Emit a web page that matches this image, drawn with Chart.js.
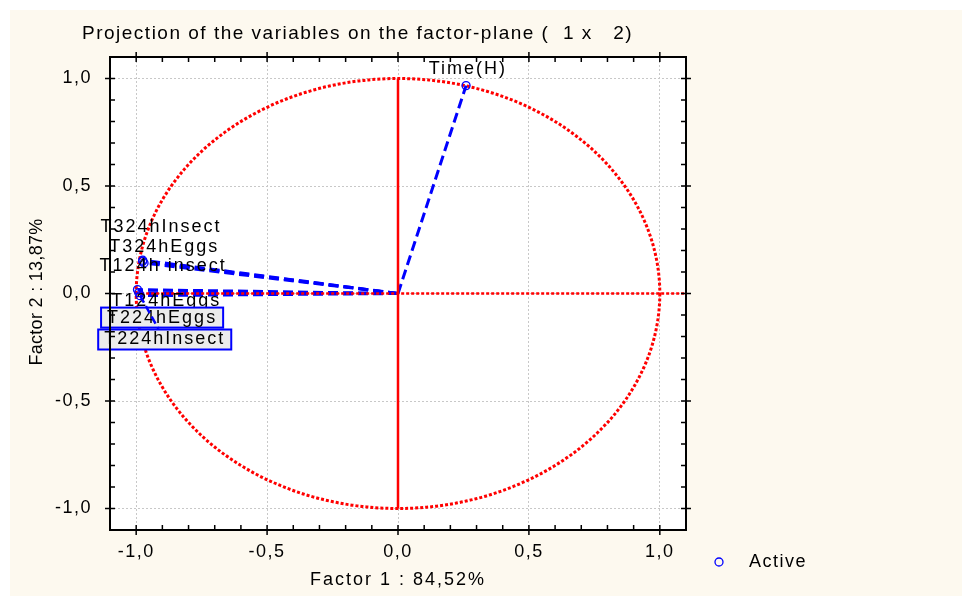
<!DOCTYPE html>
<html>
<head>
<meta charset="utf-8">
<script src="https://cdn.jsdelivr.net/npm/chart.js@4/dist/chart.umd.min.js"></script>
<style>
  html, body { margin: 0; padding: 0; background: #fff; }
</style>
</head>
<body>
<canvas id="c" width="962" height="596"></canvas>
<script>
// variables and their loadings on factor 1 / factor 2
const varNames = ['Time(H)', 'T124hEggs', 'T124h insect', 'T224hEggs', 'T224hInsect', 'T324hEggs', 'T324hInsect'];
const factor1 = [0.26, -0.995, -0.975, -0.99, -0.985, -0.97, -0.975];
const factor2 = [0.967, 0.018, 0.150, 0.004, -0.010, 0.142, 0.155];

const tickValues = [-1, -0.5, 0, 0.5, 1];
const axisMin = -1.1, axisMax = 1.1;

const chartTitle = 'Projection of the variables on the factor-plane (  1 x   2)';
const xTitle = 'Factor 1 : 84,52%';
const yTitle = 'Factor 2 : 13,87%';
const legendLabel = 'Active';

// label anchors (data units) and whether statistica drew a box around it
const labelSpots = [
  { x: 0.267, y: 1.042, boxed: false },
  { x: -0.885, y: -0.037, boxed: false },
  { x: -0.897, y: 0.126, boxed: false },
  { x: -0.901, y: -0.112, boxed: true },
  { x: -0.891, y: -0.214, boxed: true },
  { x: -0.893, y: 0.214, boxed: false },
  { x: -0.905, y: 0.307, boxed: false }
];

const FONT = 'Arial, "Liberation Sans", sans-serif';
const CREAM = '#fdf9ef';
const RED = '#ff0000';
const BLUE = '#0000ff';

const datasets = [];
// markers on top
datasets.push({
  type: 'scatter',
  data: varNames.map((n, i) => ({ x: factor1[i], y: factor2[i] })),
  pointRadius: 4,
  pointBorderColor: BLUE,
  pointBackgroundColor: 'rgba(0,0,0,0)',
  pointBorderWidth: 1.3
});
// red reference axes
datasets.push({
  type: 'line',
  data: [{ x: -1, y: 0 }, { x: axisMax, y: 0 }],
  borderColor: RED, borderWidth: 2.5, borderDash: [3, 2], pointRadius: 0
});
datasets.push({
  type: 'line',
  data: [{ x: 0, y: -1 }, { x: 0, y: 1 }],
  borderColor: RED, borderWidth: 2.5, pointRadius: 0
});
// blue vectors from origin
varNames.forEach((n, i) => {
  datasets.push({
    type: 'line',
    data: [{ x: 0, y: 0 }, { x: factor1[i], y: factor2[i] }],
    borderColor: BLUE, borderWidth: 3, borderDash: [10, 5], pointRadius: 0
  });
});

const framePlugin = {
  id: 'frame',
  beforeDraw(chart) {
    const ctx = chart.ctx, a = chart.chartArea;
    ctx.save();
    ctx.fillStyle = '#fff';
    ctx.fillRect(0, 0, chart.width, chart.height);
    ctx.fillStyle = CREAM;
    ctx.fillRect(10, 10, chart.width - 10, chart.height - 10);
    ctx.fillStyle = '#fff';
    ctx.fillRect(a.left, a.top, a.right - a.left, a.bottom - a.top);
    ctx.restore();
    ctx.letterSpacing = '1.5px';
  },
  beforeDatasetsDraw(chart) {
    const ctx = chart.ctx, xs = chart.scales.x, ys = chart.scales.y;
    const cx = xs.getPixelForValue(0), cy = ys.getPixelForValue(0);
    const rx = xs.getPixelForValue(1) - cx, ry = cy - ys.getPixelForValue(1);
    ctx.save();
    ctx.strokeStyle = RED;
    ctx.lineWidth = 3;
    ctx.setLineDash([3, 2]);
    ctx.beginPath();
    ctx.ellipse(cx, cy, rx, ry, 0, 0, Math.PI * 2);
    ctx.stroke();
    ctx.restore();
  },
  afterDatasetsDraw(chart) {
    const ctx = chart.ctx, xs = chart.scales.x, ys = chart.scales.y, a = chart.chartArea;
    ctx.save();
    ctx.letterSpacing = '2px';
    ctx.font = '18px ' + FONT;
    ctx.textAlign = 'center';
    ctx.textBaseline = 'middle';
    varNames.forEach((name, i) => {
      const s = labelSpots[i];
      const px = xs.getPixelForValue(s.x), py = ys.getPixelForValue(s.y);
      if (s.boxed) {
        const w = ctx.measureText(name).width + 12;
        ctx.fillStyle = '#ececec';
        ctx.fillRect(px - w / 2, py - 10, w, 20);
        ctx.strokeStyle = BLUE;
        ctx.lineWidth = 2;
        ctx.strokeRect(px - w / 2, py - 10, w, 20);
      }
      ctx.fillStyle = '#000';
      ctx.fillText(name, px, py);
    });
    // leader line from the T224hInsect point toward its moved label
    ctx.strokeStyle = BLUE;
    ctx.lineWidth = 2.5;
    ctx.setLineDash([8, 4]);
    ctx.beginPath();
    ctx.moveTo(xs.getPixelForValue(factor1[4]), ys.getPixelForValue(factor2[4]));
    ctx.lineTo(xs.getPixelForValue(-0.915), ys.getPixelForValue(-0.165));
    ctx.stroke();
    ctx.setLineDash([]);

    // frame and ticks
    ctx.strokeStyle = '#000';
    ctx.lineWidth = 2;
    ctx.strokeRect(a.left, a.top, a.right - a.left, a.bottom - a.top);
    ctx.lineWidth = 1.5;
    ctx.beginPath();
    for (let k = -10; k <= 10; k++) {
      const major = k % 5 === 0;
      const out = major ? 5 : 0;
      const px = xs.getPixelForValue(k / 10);
      ctx.moveTo(px, a.bottom + out); ctx.lineTo(px, a.bottom - 5);
      ctx.moveTo(px, a.top - out); ctx.lineTo(px, a.top + 5);
      const py = ys.getPixelForValue(k / 10);
      ctx.moveTo(a.left - out, py); ctx.lineTo(a.left + 5, py);
      ctx.moveTo(a.right + out, py); ctx.lineTo(a.right - 5, py);
    }
    ctx.stroke();

    // titles
    ctx.fillStyle = '#000';
    ctx.letterSpacing = '1.5px';
    ctx.font = '19px ' + FONT;
    ctx.textAlign = 'left';
    ctx.fillText(chartTitle, 82, 34);
    ctx.font = '18px ' + FONT;
    ctx.letterSpacing = '2px';
    ctx.textAlign = 'center';
    ctx.fillText(xTitle, 398, 580);
    ctx.letterSpacing = '0.3px';
    ctx.save();
    ctx.translate(37, 292);
    ctx.rotate(-Math.PI / 2);
    ctx.fillText(yTitle, 0, 0);
    ctx.restore();

    // legend
    ctx.strokeStyle = BLUE;
    ctx.lineWidth = 1.3;
    ctx.beginPath();
    ctx.arc(719, 562, 4, 0, Math.PI * 2);
    ctx.stroke();
    ctx.letterSpacing = '1.5px';
    ctx.textAlign = 'left';
    ctx.fillText(legendLabel, 749, 562);
    ctx.restore();
  }
};

const fmt = v => v.toFixed(1).replace('.', ',');

new Chart(document.getElementById('c'), {
  type: 'scatter',
  data: { datasets },
  options: {
    responsive: false,
    animation: false,
    devicePixelRatio: 1,
    layout: { padding: { left: 0, top: 57, right: 276, bottom: 0 } },
    plugins: { legend: { display: false }, tooltip: { enabled: false } },
    scales: {
      x: {
        type: 'linear', min: axisMin, max: axisMax,
        afterFit: s => { s.height = 66; },
        afterBuildTicks: s => { s.ticks = tickValues.map(v => ({ value: v })); },
        grid: { color: '#c8c8c8', lineWidth: 1, drawTicks: false },
        border: { display: false, dash: [2, 2] },
        ticks: { padding: 11, color: '#000', font: { family: FONT, size: 18 }, callback: v => fmt(v), maxRotation: 0 }
      },
      y: {
        type: 'linear', min: axisMin, max: axisMax,
        afterFit: s => { s.width = 110; },
        afterBuildTicks: s => { s.ticks = tickValues.map(v => ({ value: v })); },
        grid: { color: '#c8c8c8', lineWidth: 1, drawTicks: false },
        border: { display: false, dash: [2, 2] },
        ticks: { padding: 18, color: '#000', font: { family: FONT, size: 18 }, callback: v => fmt(v) }
      }
    }
  },
  plugins: [framePlugin]
});
</script>
</body>
</html>
